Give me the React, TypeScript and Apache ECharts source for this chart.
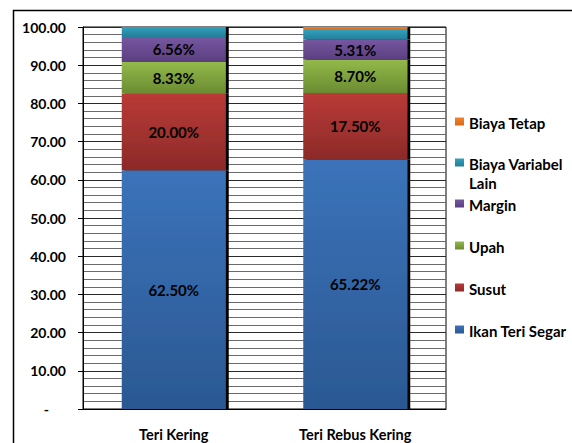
import React, { useEffect, useRef } from "react";
import * as echarts from "echarts";

// Cost structure per product (percent of selling price)
const categories = ["Teri Kering", "Teri Rebus Kering"];
const ikanTeriSegar = [62.5, 65.22];
const susut = [20.0, 17.5];
const upah = [8.33, 8.7];
const margin = [6.56, 5.31];
const biayaVariabelLain = [2.61, 2.47];
const biayaTetap = [0, 0.8];

const yTicks = [0, 10, 20, 30, 40, 50, 60, 70, 80, 90, 100];

const FONT = "Lato, 'Open Sans', sans-serif";

type SeriesDef = {
  name: string;
  legendText: string;
  data: number[];
  top: string;
  bottom: string;
  label: boolean;
};

const seriesDefs: SeriesDef[] = [
  { name: "Ikan Teri Segar", legendText: "Ikan Teri Segar", data: ikanTeriSegar, top: "#3B73BA", bottom: "#2B5892", label: true },
  { name: "Susut", legendText: "Susut", data: susut, top: "#B93A37", bottom: "#8C2A28", label: true },
  { name: "Upah", legendText: "Upah", data: upah, top: "#93B94A", bottom: "#6A8B31", label: true },
  { name: "Margin", legendText: "Margin", data: margin, top: "#7657A0", bottom: "#5A3F80", label: true },
  { name: "Biaya Variabel Lain", legendText: "Biaya Variabel\nLain", data: biayaVariabelLain, top: "#31A0BC", bottom: "#267E98", label: false },
  { name: "Biaya Tetap", legendText: "Biaya Tetap", data: biayaTetap, top: "#F3822A", bottom: "#D8691A", label: false },
];

// vertical position of each legend row (first line centre), top to bottom
const legendRows: { name: string; y: number }[] = [
  { name: "Biaya Tetap", y: 122 },
  { name: "Biaya Variabel Lain", y: 163 },
  { name: "Margin", y: 204 },
  { name: "Upah", y: 246 },
  { name: "Susut", y: 288 },
  { name: "Ikan Teri Segar", y: 330 },
];

const LEGEND_LINE = 19;

const grad = (top: string, bottom: string) =>
  new echarts.graphic.LinearGradient(0, 0, 0, 1, [
    { offset: 0, color: top },
    { offset: 1, color: bottom },
  ]);

export default function App() {
  const ref = useRef<HTMLDivElement>(null);

  useEffect(() => {
    document.body.style.margin = "0";
    if (!ref.current) return;
    const chart = echarts.init(ref.current, null, { renderer: "svg" });

    const legendGraphics: any[] = [];
    legendRows.forEach((row) => {
      const def = seriesDefs.find((d) => d.name === row.name)!;
      legendGraphics.push({
        type: "rect",
        shape: { x: 455, y: row.y - 4.5, width: 9, height: 8 },
        style: { fill: grad(def.top, def.bottom) },
      });
      legendGraphics.push({
        type: "text",
        x: 469,
        y: row.y - LEGEND_LINE / 2 + 1,
        style: {
          text: def.legendText,
          font: `bold 15px ${FONT}`,
          fill: "#000",
          lineHeight: LEGEND_LINE,
          textVerticalAlign: "top",
        },
      });
    });

    chart.setOption({
      animation: false,
      backgroundColor: "#fff",
      grid: {
        left: 83,
        top: 27,
        width: 363,
        height: 382,
        show: true,
        borderColor: "#000",
        borderWidth: 1,
      },
      xAxis: {
        type: "category",
        data: categories,
        axisLine: { lineStyle: { color: "#000", width: 1 } },
        axisTick: { show: false },
        axisLabel: {
          color: "#000",
          fontWeight: "bold",
          fontSize: 14.5,
          fontFamily: FONT,
          margin: 18,
        },
      },
      yAxis: {
        type: "value",
        min: yTicks[0],
        max: yTicks[yTicks.length - 1],
        interval: 10,
        axisLine: { show: true, lineStyle: { color: "#000", width: 1 } },
        axisTick: { show: true, inside: false, length: 5, lineStyle: { color: "#000" } },
        minorTick: { show: false, splitNumber: 5 },
        splitLine: { show: true, lineStyle: { color: "#2a2a2a", width: 1 } },
        minorSplitLine: { show: true, lineStyle: { color: "#6a6a6a", width: 1 } },
        axisLabel: {
          color: "#000",
          fontWeight: "bold",
          fontSize: 14,
          fontFamily: FONT,
          margin: 17,
          formatter: (v: number) => (v === 0 ? "{z|-}" : v.toFixed(2)),
          rich: {
            z: { fontWeight: "bold", fontSize: 14, fontFamily: FONT, color: "#000", padding: [0, 17, 0, 0] },
          },
        },
      },
      series: seriesDefs.map((d) => ({
        name: d.name,
        type: "bar",
        stack: "total",
        barWidth: 104,
        data: d.data,
        itemStyle: {
          color: grad(d.top, d.bottom),
          shadowColor: "#000",
          shadowBlur: 0,
          shadowOffsetX: 3,
          shadowOffsetY: 0,
        },
        label: {
          show: d.label,
          position: "inside",
          color: "#000",
          fontWeight: "bold",
          fontSize: 15,
          fontFamily: FONT,
          formatter: (p: any) => `${Number(p.value).toFixed(2)}%`,
        },
      })),
      graphic: [
        {
          type: "rect",
          shape: { x: 13.5, y: 10.5, width: 570, height: 450 },
          style: { fill: "none", stroke: "#000", lineWidth: 1.5 },
          silent: true,
        },
        ...legendGraphics,
      ],
    });

    return () => chart.dispose();
  }, []);

  return <div ref={ref} style={{ width: 572, height: 443 }} />;
}
